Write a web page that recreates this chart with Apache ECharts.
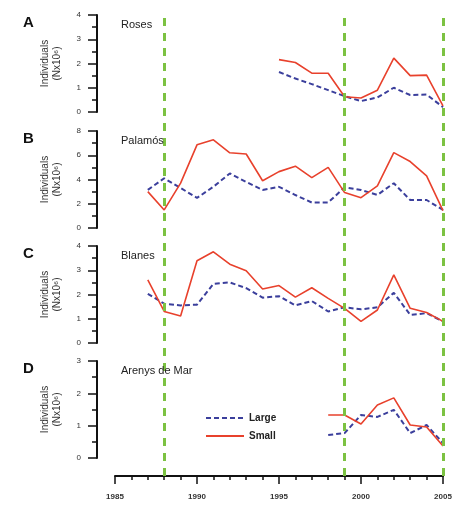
<!DOCTYPE html>
<html>
<head>
<meta charset="utf-8">
<script src="https://cdn.jsdelivr.net/npm/echarts@6/dist/echarts.min.js"></script>
<style>html,body{margin:0;padding:0;background:#fff}#c{width:457px;height:506px}</style>
</head>
<body>
<div id="c"></div>
<script>
// ---- data ----
const eventYears = [1988, 1999, 2005];
const xTicks = [1985, 1990, 1995, 2000, 2005];

const rosesYears = [1995,1996,1997,1998,1999,2000,2001,2002,2003,2004,2005];
const rosesLarge = [1.65,1.38,1.15,0.9,0.65,0.45,0.6,1.0,0.7,0.72,0.2];
const rosesSmall = [2.16,2.04,1.6,1.6,0.63,0.58,0.9,2.22,1.5,1.52,0.25];

const palamosYears = [1987,1988,1989,1990,1991,1992,1993,1994,1995,1996,1997,1998,1999,2000,2001,2002,2003,2004,2005];
const palamosLarge = [3.14,4.1,3.3,2.48,3.4,4.5,3.8,3.14,3.4,2.72,2.1,2.1,3.36,3.14,2.73,3.69,2.31,2.31,1.49];
const palamosSmall = [3.0,1.49,3.7,6.86,7.27,6.2,6.1,3.9,4.65,5.1,4.16,5.0,2.92,2.5,3.47,6.22,5.48,4.3,1.43];

const blanesYears = [1987,1988,1989,1990,1991,1992,1993,1994,1995,1996,1997,1998,1999,2000,2001,2002,2003,2004,2005];
const blanesLarge = [2.03,1.62,1.55,1.58,2.44,2.5,2.26,1.87,1.93,1.55,1.73,1.3,1.47,1.39,1.47,2.07,1.16,1.23,0.89];
const blanesSmall = [2.6,1.3,1.11,3.39,3.76,3.25,2.98,2.23,2.37,1.89,2.28,1.84,1.43,0.89,1.36,2.81,1.43,1.26,0.89];

const arenysYears = [1998,1999,2000,2001,2002,2003,2004,2005];
const arenysLarge = [0.71,0.77,1.33,1.27,1.49,0.77,1.02,0.46];
const arenysSmall = [1.33,1.33,1.05,1.64,1.86,1.02,0.96,0.37];

const panels = [
  {letter:'A', name:'Roses',          years:rosesYears,   large:rosesLarge,   small:rosesSmall,   max:4, step:1},
  {letter:'B', name:'Palamós',        years:palamosYears, large:palamosLarge, small:palamosSmall, max:8, step:2},
  {letter:'C', name:'Blanes',         years:blanesYears,  large:blanesLarge,  small:blanesSmall,  max:4, step:1},
  {letter:'D', name:'Arenys de Mar',  years:arenysYears,  large:arenysLarge,  small:arenysSmall,  max:3, step:1}
];

// ---- layout ----
const FONT = 'Liberation Sans, Arial, sans-serif';
const panelTops = [15, 131, 246, 361];
const panelH = 97;
const plotLeft = 115, plotW = 328;
const RED = '#e8412c', BLUE = '#3b3f9c', GREEN = '#7cc242';

const grid = [], xAxis = [], yAxis = [], series = [], title = [];
const zip = (xs, ys) => xs.map((x, i) => [x, ys[i]]);

panels.forEach((p, i) => {
  grid.push({left: plotLeft, width: plotW, top: panelTops[i], height: panelH});
  xAxis.push({gridIndex: i, type: 'value', min: 1985, max: 2005, show: false});
  yAxis.push({
    gridIndex: i, type: 'value', min: 0, max: p.max, interval: p.step,
    offset: 18,
    axisLine: {show: true, lineStyle: {color: '#111', width: 2}},
    axisTick: {show: true, length: 9, lineStyle: {color: '#111', width: 1.5}},
    minorTick: {show: true, splitNumber: 2, length: 5, lineStyle: {color: '#111', width: 1.5}},
    splitLine: {show: false},
    axisLabel: {fontSize: 8, color: '#333', fontFamily: FONT, margin: 16},
    name: 'Individuals\n(Nx10⁶)', nameLocation: 'middle', nameRotate: 90, nameGap: 34,
    nameTextStyle: {fontSize: 10, color: '#333', fontFamily: FONT, lineHeight: 12}
  });
  series.push({
    name: 'Large', type: 'line', xAxisIndex: i, yAxisIndex: i,
    data: zip(p.years, p.large), symbol: 'none', z: 3,
    lineStyle: {color: BLUE, width: 2, type: [5, 3]}, itemStyle: {color: BLUE}
  });
  series.push({
    name: 'Small', type: 'line', xAxisIndex: i, yAxisIndex: i,
    data: zip(p.years, p.small), symbol: 'none', z: 4,
    lineStyle: {color: RED, width: 1.6}, itemStyle: {color: RED}
  });
  title.push({text: p.letter, left: 18, top: panelTops[i] - 5,
    textStyle: {fontSize: 15, fontWeight: 'bold', color: '#111', fontFamily: FONT}});
  title.push({text: p.name, left: 116, top: panelTops[i] - 1,
    textStyle: {fontSize: 11, fontWeight: 'normal', color: '#222', fontFamily: FONT}});
});

// bottom axis grid (also carries the event lines)
const bi = panels.length;
grid.push({left: plotLeft, width: plotW, top: 15, height: 461});
xAxis.push({
  gridIndex: bi, type: 'value', min: 1985, max: 2005, interval: 5,
  axisLine: {show: true, onZero: false, lineStyle: {color: '#111', width: 2}},
  axisTick: {show: true, length: 8, lineStyle: {color: '#111', width: 1.5}},
  minorTick: {show: true, splitNumber: 5, length: 4, lineStyle: {color: '#111', width: 1.5}},
  splitLine: {show: false},
  axisLabel: {fontSize: 8, color: '#333', fontFamily: FONT, margin: 17, fontWeight: 'bold',
    formatter: v => xTicks.includes(v) ? String(v) : ''}
});
yAxis.push({gridIndex: bi, type: 'value', min: 0, max: 1, show: false});
series.push({
  name: 'events', type: 'line', xAxisIndex: bi, yAxisIndex: bi,
  data: [[1985, null]], symbol: 'none', silent: true, z: 1,
  lineStyle: {opacity: 0},
  markLine: {
    silent: true, symbol: ['none', 'none'], label: {show: false},
    lineStyle: {color: GREEN, width: 3, type: [8, 7]},
    data: eventYears.map(y => ({xAxis: y}))
  }
});

const chart = echarts.init(document.getElementById('c'), null, {renderer: 'canvas'});
chart.setOption({
  animation: false,
  backgroundColor: '#fff',
  title: title,
  grid: grid, xAxis: xAxis, yAxis: yAxis, series: series,
  legend: {
    data: ['Large', 'Small'], orient: 'vertical', left: 200, top: 408,
    itemWidth: 38, itemHeight: 8, itemGap: 8,
    itemStyle: {opacity: 0},
    textStyle: {fontSize: 10, fontWeight: 'bold', color: '#222', fontFamily: FONT}
  }
});
</script>
</body>
</html>
